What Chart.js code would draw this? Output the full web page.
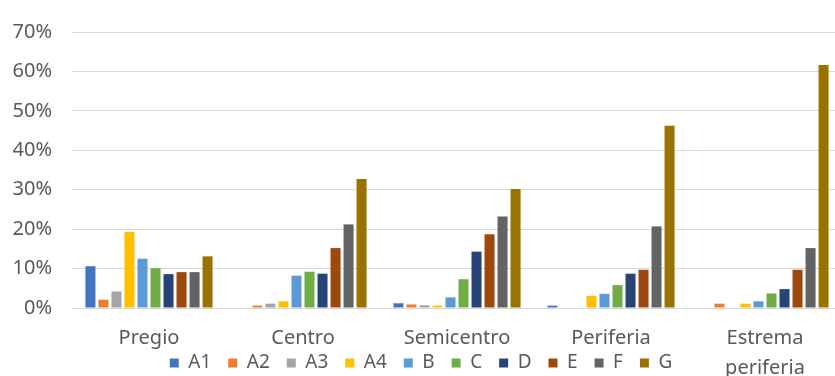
<!DOCTYPE html>
<html>
<head>
<meta charset="utf-8">
<script src="https://cdn.jsdelivr.net/npm/chart.js@4"></script>
<style>
  html, body { margin: 0; padding: 0; background: #fff; overflow: hidden; }
</style>
</head>
<body>
<canvas id="chart" width="842" height="376"></canvas>
<script>
const categories = ['Pregio', 'Centro', 'Semicentro', 'Periferia', ['Estrema', 'periferia']];
const seriesNames = ['A1', 'A2', 'A3', 'A4', 'B', 'C', 'D', 'E', 'F', 'G'];
const seriesColors = ['#4472C4', '#ED7D31', '#A5A5A5', '#FFC000', '#5B9BD5', '#70AD47', '#264478', '#9E480E', '#636363', '#997300'];

// percentages per series, one value per zone
const a1 = [10.6, 0, 1.2, 0.6, 0];
const a2 = [2.1, 0.6, 0.9, 0, 1.1];
const a3 = [4.2, 1.1, 0.7, 0, 0];
const a4 = [19.3, 1.7, 0.6, 3.1, 1.1];
const b = [12.5, 8.2, 2.7, 3.6, 1.7];
const c = [10.1, 9.2, 7.3, 5.8, 3.7];
const d = [8.6, 8.7, 14.3, 8.7, 4.8];
const e = [9.1, 15.2, 18.7, 9.7, 9.7];
const f = [9.1, 21.2, 23.2, 20.7, 15.2];
const g = [13.1, 32.7, 30.2, 46.2, 61.6];

const yTicks = [0, 10, 20, 30, 40, 50, 60, 70];

const values = [a1, a2, a3, a4, b, c, d, e, f, g];
const datasets = seriesNames.map((name, i) => ({
  label: name,
  data: values[i],
  backgroundColor: seriesColors[i],
  borderWidth: 0,
  categoryPercentage: 0.845,
  barPercentage: 0.77
}));

const font = 'Noto Sans';
const textColor = '#595959';

// x axis is kept short so the legend sits beside the second label line;
// widen its clip box so that line is still drawn
const labelRoom = {
  id: 'labelRoom',
  afterLayout(chart) {
    chart.scales.x.bottom = chart.height;
  }
};

new Chart(document.getElementById('chart'), {
  type: 'bar',
  data: { labels: categories, datasets: datasets },
  plugins: [labelRoom],
  options: {
    responsive: false,
    animation: false,
    layout: { padding: { top: 28, bottom: -6.5, left: 0, right: 0 } },
    plugins: {
      tooltip: { enabled: false },
      legend: {
        position: 'bottom',
        labels: {
          boxWidth: 9,
          boxHeight: 9,
          padding: 17,
          color: textColor,
          font: { family: font, size: 19 }
        }
      }
    },
    scales: {
      x: {
        grid: { display: false },
        border: { display: true, color: '#d9d9d9' },
        ticks: {
          color: textColor,
          padding: 7,
          font: { family: font, size: 20, lineHeight: 1.5 },
          maxRotation: 0,
          autoSkip: false
        },
        afterFit: scale => { scale.height = 28.5; }
      },
      y: {
        min: yTicks[0],
        max: yTicks[yTicks.length - 1],
        grid: { color: '#d9d9d9', drawTicks: false },
        border: { display: false },
        ticks: {
          stepSize: 10,
          padding: 20,
          color: textColor,
          font: { family: font, size: 20 },
          callback: v => v + '%'
        },
        afterFit: scale => { scale.width = 72; }
      }
    }
  }
});
</script>
</body>
</html>
